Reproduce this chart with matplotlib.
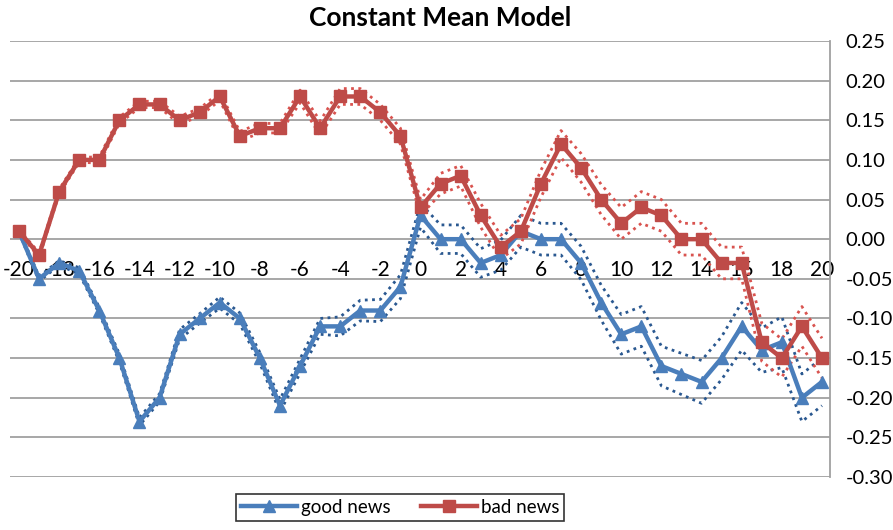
import matplotlib
matplotlib.use("Agg")
import matplotlib.pyplot as plt

# ---- data ----
days = list(range(-20, 21))
good_news = [0.01, -0.05, -0.03, -0.04, -0.09, -0.15, -0.23, -0.20, -0.12, -0.10,
             -0.08, -0.10, -0.15, -0.21, -0.16, -0.11, -0.11, -0.09, -0.09, -0.06,
             0.03, 0.00, 0.00, -0.03, -0.02, 0.01, 0.00, 0.00, -0.03, -0.08,
             -0.12, -0.11, -0.16, -0.17, -0.18, -0.15, -0.11, -0.14, -0.13, -0.20,
             -0.18]
bad_news = [0.01, -0.02, 0.06, 0.10, 0.10, 0.15, 0.17, 0.17, 0.15, 0.16,
            0.18, 0.13, 0.14, 0.14, 0.18, 0.14, 0.18, 0.18, 0.16, 0.13,
            0.04, 0.07, 0.08, 0.03, -0.01, 0.01, 0.07, 0.12, 0.09, 0.05,
            0.02, 0.04, 0.03, 0.00, 0.00, -0.03, -0.03, -0.13, -0.15, -0.11,
            -0.15]
# half-widths of the dotted bands
good_band = [0.002, 0.003, 0.003, 0.004, 0.004, 0.005, 0.005, 0.005, 0.006, 0.006,
             0.007, 0.007, 0.007, 0.008, 0.009, 0.010, 0.012, 0.013, 0.014, 0.015,
             0.015, 0.018, 0.018, 0.018, 0.019, 0.020, 0.020, 0.020, 0.021, 0.022,
             0.025, 0.025, 0.025, 0.026, 0.027, 0.027, 0.030, 0.028, 0.032, 0.030,
             0.030]
bad_band = [0.002, 0.003, 0.003, 0.003, 0.004, 0.004, 0.004, 0.004, 0.005, 0.005,
            0.005, 0.006, 0.006, 0.006, 0.008, 0.009, 0.010, 0.010, 0.010, 0.010,
            0.010, 0.013, 0.013, 0.015, 0.015, 0.016, 0.017, 0.017, 0.018, 0.019,
            0.020, 0.020, 0.020, 0.020, 0.020, 0.020, 0.020, 0.024, 0.024, 0.025,
            0.025]
x_ticks = list(range(-20, 21, 2))
y_ticks = [0.25, 0.20, 0.15, 0.10, 0.05, 0.00, -0.05, -0.10, -0.15, -0.20, -0.25, -0.30]

BLUE = "#4A7EBB"
BLUE_DOT = "#2A5890"
RED = "#BE4B48"
RED_DOT = "#D9534F"

plt.rcParams['font.family'] = ['Lato', 'DejaVu Sans']

fig = plt.figure(figsize=(8.93, 5.30), dpi=100)
ax = fig.add_axes([10 / 893, 53 / 530, 820 / 893, 436 / 530])
ax.set_axisbelow(True)

# axis layout first (set_position resets ticks)
ax.spines['bottom'].set_position(('data', 0))
ax.spines['bottom'].set_visible(False)
for s in ('left', 'top'):
    ax.spines[s].set_visible(False)
ax.spines['right'].set_color('#A0A0A0')
ax.spines['right'].set_linewidth(1.3)
ax.yaxis.tick_right()

g_up = [v + e for v, e in zip(good_news, good_band)]
g_lo = [v - e for v, e in zip(good_news, good_band)]
b_up = [v + e for v, e in zip(bad_news, bad_band)]
b_lo = [v - e for v, e in zip(bad_news, bad_band)]

dot = (0, (1, 1.6))
for arr in (g_up, g_lo):
    ax.plot(days, arr, color=BLUE_DOT, lw=2.0, linestyle=dot, zorder=2)
for arr in (b_up, b_lo):
    ax.plot(days, arr, color=RED_DOT, lw=2.0, linestyle=dot, zorder=2)

ax.plot(days, good_news, color=BLUE, lw=3.2, marker='^', markersize=8.5,
        markerfacecolor=BLUE, markeredgecolor=BLUE, label='good news', zorder=3)
ax.plot(days, bad_news, color=RED, lw=3.2, marker='s', markersize=8,
        markerfacecolor=RED, markeredgecolor=RED, label='bad news', zorder=3)

ax.set_xlim(-20.45, 20.4)
ax.set_ylim(-0.30, 0.25)

ax.set_yticks(y_ticks)
ax.set_yticklabels([f"{v:.2f}" for v in y_ticks])
ax.tick_params(axis='y', length=0, pad=11, labelsize=14.5)
ax.grid(axis='y', color='#A0A0A0', lw=1.3)

ax.set_xticks(x_ticks)
ax.set_xticklabels([str(t) for t in x_ticks])
ax.tick_params(axis='x', length=0, pad=15, labelsize=15)

fig.text(0.493, 0.966, "Constant Mean Model", ha='center', va='center',
         fontsize=19, fontweight='bold')

leg = fig.legend(loc='lower center', bbox_to_anchor=(0.448, 0.0), ncol=2,
                 fontsize=13.5, frameon=True, fancybox=False, handlelength=3,
                 columnspacing=1.6, handletextpad=0.2, borderpad=0.25)
leg.get_frame().set_edgecolor('black')
leg.get_frame().set_linewidth(1.2)

fig.savefig("out.png", dpi=100)
